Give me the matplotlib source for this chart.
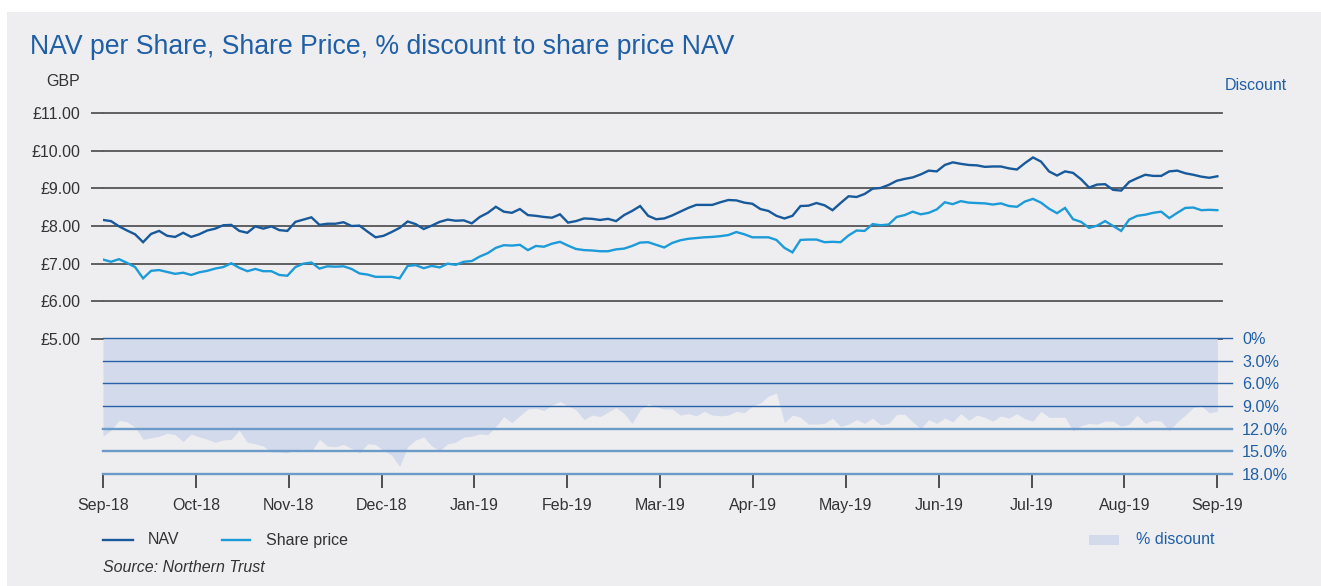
import numpy as np
import matplotlib
matplotlib.use('Agg')
import matplotlib.pyplot as plt
from matplotlib.lines import Line2D
from matplotlib.patches import Rectangle

plt.rcParams['font.family'] = ['Liberation Sans', 'DejaVu Sans']

# Dữ liệu (Sep-18 -> Sep-19)
months = ['Sep-18', 'Oct-18', 'Nov-18', 'Dec-18', 'Jan-19', 'Feb-19', 'Mar-19',
          'Apr-19', 'May-19', 'Jun-19', 'Jul-19', 'Aug-19', 'Sep-19']

nav = [8.16, 8.13, 7.99, 7.88, 7.78, 7.57, 7.79, 7.87, 7.74, 7.71, 7.82, 7.71,
       7.78, 7.88, 7.93, 8.02, 8.03, 7.87, 7.82, 7.99, 7.93, 7.99, 7.89, 7.87,
       8.11, 8.17, 8.23, 8.03, 8.06, 8.06, 8.10, 8.00, 8.01, 7.85, 7.70, 7.74,
       7.84, 7.95, 8.12, 8.05, 7.92, 8.01, 8.11, 8.17, 8.14, 8.15, 8.07, 8.24,
       8.35, 8.51, 8.38, 8.35, 8.45, 8.29, 8.27, 8.24, 8.22, 8.31, 8.09, 8.13,
       8.20, 8.19, 8.16, 8.19, 8.13, 8.29, 8.40, 8.53, 8.27, 8.18, 8.20,
       8.28, 8.38, 8.48, 8.56, 8.56, 8.56, 8.63, 8.69, 8.68, 8.62, 8.59, 8.45,
       8.40, 8.27, 8.20, 8.27, 8.53, 8.54, 8.61, 8.55, 8.42, 8.61, 8.79, 8.77,
       8.85, 8.99, 9.01, 9.09, 9.20, 9.25, 9.29, 9.37, 9.47, 9.45, 9.62,
       9.69, 9.65, 9.62, 9.61, 9.57, 9.58, 9.58, 9.53, 9.50, 9.67, 9.82, 9.71,
       9.45, 9.34, 9.45, 9.41, 9.24, 9.02, 9.10, 9.11, 8.96, 8.94, 9.17, 9.27,
       9.36, 9.33, 9.33, 9.45, 9.47, 9.40, 9.36, 9.31, 9.28, 9.32]

share_price = [7.11, 7.05, 7.12, 7.02, 6.91, 6.61, 6.81, 6.83, 6.78, 6.73, 6.76, 6.70,
               6.77, 6.81, 6.87, 6.91, 7.01, 6.89, 6.80, 6.86, 6.80, 6.80, 6.70, 6.68,
               6.91, 7.00, 7.03, 6.87, 6.93, 6.92, 6.93, 6.86, 6.74, 6.71, 6.65, 6.65,
               6.65, 6.61, 6.94, 6.96, 6.88, 6.94, 6.90, 7.00, 6.97, 7.05, 7.07, 7.19,
               7.28, 7.42, 7.49, 7.48, 7.50, 7.36, 7.47, 7.45, 7.53, 7.58, 7.48, 7.39,
               7.36, 7.35, 7.33, 7.33, 7.38, 7.40, 7.47, 7.56, 7.57, 7.50, 7.43,
               7.55, 7.62, 7.66, 7.68, 7.70, 7.71, 7.73, 7.76, 7.84, 7.78, 7.70, 7.70,
               7.70, 7.63, 7.42, 7.30, 7.63, 7.64, 7.64, 7.57, 7.58, 7.57, 7.75, 7.88,
               7.87, 8.05, 8.02, 8.04, 8.24, 8.29, 8.38, 8.31, 8.35, 8.44, 8.63,
               8.58, 8.66, 8.62, 8.61, 8.60, 8.57, 8.60, 8.53, 8.51, 8.65, 8.72, 8.62,
               8.46, 8.34, 8.48, 8.18, 8.11, 7.95, 8.01, 8.13, 8.00, 7.87, 8.17, 8.27,
               8.30, 8.35, 8.38, 8.21, 8.35, 8.48, 8.49, 8.42, 8.43, 8.42]

discount = [13.0, 12.2, 10.9, 11.1, 11.8, 13.4, 13.2, 13.0, 12.6, 12.8, 13.7, 12.7,
            13.1, 13.4, 13.8, 13.5, 13.4, 12.2, 13.8, 14.0, 14.3, 15.1, 15.1, 15.2,
            14.8, 14.7, 15.0, 13.4, 14.3, 14.4, 14.1, 14.6, 15.2, 14.0, 14.1, 14.9,
            15.5, 17.0, 14.4, 13.5, 13.1, 14.3, 14.9, 14.0, 13.8, 13.1, 13.0, 12.7,
            12.8, 11.7, 10.4, 11.2, 10.3, 9.4, 9.3, 9.6, 8.9, 8.4, 9.0, 9.5,
            10.8, 10.2, 10.4, 9.8, 9.2, 10.0, 11.3, 9.5, 8.7, 9.1, 9.4,
            9.4, 10.2, 10.0, 10.3, 9.7, 10.2, 10.3, 10.2, 9.7, 9.9, 9.0, 8.6,
            7.7, 7.3, 11.2, 10.2, 10.5, 11.4, 11.4, 11.3, 10.6, 11.7, 11.4, 10.8,
            11.3, 10.6, 11.5, 11.3, 10.1, 10.1, 11.1, 12.0, 10.8, 11.3, 10.6,
            11.1, 10.0, 10.9, 10.2, 10.5, 11.0, 10.3, 10.6, 10.0, 10.7, 11.0, 9.7,
            10.5, 10.5, 10.5, 12.3, 11.6, 11.3, 11.4, 11.0, 11.0, 11.7, 11.4, 10.2,
            11.3, 10.9, 11.0, 12.3, 11.1, 10.2, 9.2, 9.0, 9.9, 9.7]

price_ticks = [5, 6, 7, 8, 9, 10, 11]
discount_ticks = [0, 3, 6, 9, 12, 15, 18]

# Màu sắc
BG = '#eeeef0'
GRID = '#555555'
TXT = '#333333'
BLUE = '#1f5fa6'
NAV_C = '#17599a'
PRICE_C = '#1c9bd8'
FILL = '#d3daec'
LINE_DARK = '#2763a6'
LINE_LIGHT = '#6d9bc9'

W, H = 1321, 586


def fx(x):
    return x / W


def fy(y):
    return 1 - y / H


fig = plt.figure(figsize=(W / 100, H / 100), dpi=100)
fig.patch.set_facecolor('white')
# Nền xám (viền trắng nhỏ ở trên và bên trái)
fig.add_artist(Rectangle((fx(7), 0), 1 - fx(7), fy(12), color=BG, lw=0, zorder=0))

x = np.linspace(0, len(months) - 1, len(nav))
xmax = 12.05
ext = 0.11  # phần kéo dài bên phải của đường kẻ (~10px)

# Trục trên: giá (GBP)
ax = fig.add_axes([fx(103), fy(339), fx(1222) - fx(103), fy(113) - fy(339)])
ax.set_facecolor('none')
ax.set_xlim(0, xmax)
ax.set_ylim(5, 11)
for v in price_ticks:
    ax.axhline(v, color=GRID, lw=1.3, clip_on=False, zorder=1)
ax.plot(x, nav, color=NAV_C, lw=1.7, zorder=3, solid_joinstyle='miter')
ax.plot(x, share_price, color=PRICE_C, lw=1.7, zorder=3, solid_joinstyle='miter')
ax.set_yticks(price_ticks)
ax.set_yticklabels([f'£{v:.2f}' for v in price_ticks])
ax.tick_params(axis='y', length=8.6, width=1.3, color=GRID, pad=7.5,
               labelsize=11.5, labelcolor=TXT)
ax.set_xticks([])
for s in ax.spines.values():
    s.set_visible(False)

# Trục dưới: % chiết khấu (đảo ngược)
axd = fig.add_axes([fx(103), fy(474), fx(1222) - fx(103), fy(338) - fy(474)])
axd.set_facecolor('none')
axd.set_xlim(0, xmax)
axd.set_ylim(18, 0)
axd.fill_between(x, 0, discount, color=FILL, lw=0, zorder=1)
for v in discount_ticks:
    if v <= 9:
        axd.plot([0, xmax + ext], [v, v], color=LINE_DARK, lw=1.0, clip_on=False, zorder=2)
    else:
        axd.plot([0, xmax + ext], [v, v], color=LINE_LIGHT, lw=1.7, clip_on=False, zorder=2)
axd.yaxis.tick_right()
axd.set_yticks(discount_ticks)
axd.set_yticklabels(['0%'] + [f'{v:.1f}%' for v in discount_ticks[1:]])
axd.tick_params(axis='y', length=0, pad=14.5, labelsize=11.7, labelcolor=BLUE)
axd.set_xticks(range(len(months)))
axd.set_xticklabels(months)
axd.tick_params(axis='x', length=10, width=1.2, color=TXT, pad=7,
                labelsize=11.5, labelcolor=TXT)
for s in axd.spines.values():
    s.set_visible(False)

# Tiêu đề và nhãn
fig.text(fx(30), fy(47), 'NAV per Share, Share Price, % discount to share price NAV',
         fontsize=19.2, color=BLUE, va='center', ha='left')
fig.text(fx(80), fy(82), 'GBP', fontsize=11.5, color=TXT, va='center', ha='right')
fig.text(fx(1287), fy(86), 'Discount', fontsize=11.5, color=BLUE, va='center', ha='right')

# Chú thích
fig.add_artist(Line2D([fx(103), fx(133)], [fy(540), fy(540)], color=NAV_C, lw=1.7))
fig.text(fx(148), fy(540), 'NAV', fontsize=11.5, color=TXT, va='center')
fig.add_artist(Line2D([fx(222), fx(250)], [fy(540), fy(540)], color=PRICE_C, lw=1.7))
fig.text(fx(266), fy(540), 'Share price', fontsize=11.5, color=TXT, va='center')
fig.add_artist(Rectangle((fx(1089), fy(545)), fx(30), fy(535) - fy(545),
                         color=FILL, lw=0))
fig.text(fx(1136), fy(540), '% discount', fontsize=11.5, color=BLUE, va='center')
fig.text(fx(103), fy(567), 'Source: Northern Trust', fontsize=11.5, color=TXT,
         va='center', style='italic')

plt.savefig('out.png', dpi=100, facecolor='white')
plt.close()
